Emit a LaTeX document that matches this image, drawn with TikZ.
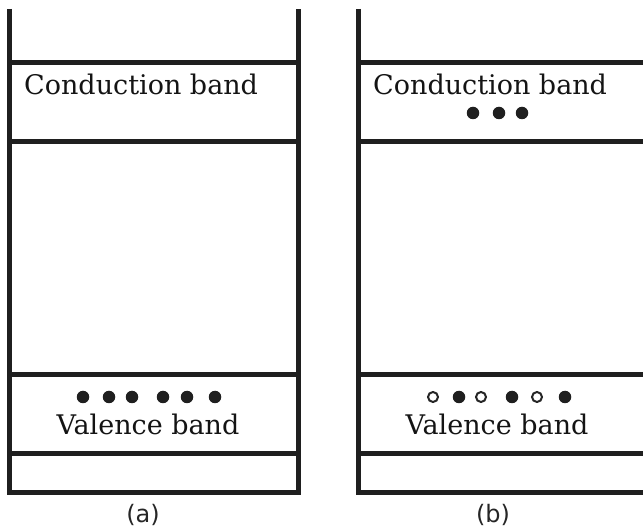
\documentclass[tikz,border=0pt]{standalone}
\usepackage{fontspec}
\setmainfont{DejaVu Serif}
\newfontfamily\capfont{DejaVu Sans}
\begin{document}
\begin{tikzpicture}[x=1pt,y=-1pt,
  wall/.style={line width=5pt,color=black!88,line join=miter},
  level/.style={line width=5pt,color=black!88},
  bandtext/.style={font=\fontsize{27}{30}\selectfont,text=black!92,inner sep=0pt},
  caption/.style={font=\capfont\fontsize{24}{26}\selectfont,text=black!85,inner sep=0pt},
  electron/.style={circle,fill=black!88,inner sep=0pt,minimum size=12.5pt},
  hole/.style={circle,draw=black!85,line width=2pt,fill=white,inner sep=0pt,minimum size=10pt}]
\useasboundingbox (0,0) rectangle (643,529);
\clip (0,0) rectangle (643,529);

% panel (a): insulator-like filled valence band
\draw[wall] (9,9) -- (9,492) -- (298,492) -- (298,9);
\draw[level] (9,63) -- (298,63);
\draw[level] (9,142) -- (298,142);
\draw[level] (9,375) -- (298,375);
\draw[level] (9,453) -- (298,453);
\node[bandtext,anchor=base west] (cbA) at (24,95) {Conduction band};
\node[bandtext,anchor=base] (vbA) at (148,435) {Valence band};
\foreach \x [count=\i] in {83,109,132,163,187,215}
  \node[electron] (eA\i) at (\x,397) {};
\node[caption] (capA) at (143,515) {(a)};

% panel (b): electrons excited, holes left behind
\draw[wall] (358,9) -- (358,492) -- (660,492);
\draw[level] (358,63) -- (660,63);
\draw[level] (358,142) -- (660,142);
\draw[level] (358,375) -- (660,375);
\draw[level] (358,453) -- (660,453);
\node[bandtext,anchor=base west] (cbB) at (373,95) {Conduction band};
\node[bandtext,anchor=base] (vbB) at (497,435) {Valence band};
\foreach \x [count=\i] in {473,499,522}
  \node[electron] (cB\i) at (\x,113) {};
\node[hole] (hB1) at (433,397) {};
\node[electron] (eB1) at (459,397) {};
\node[hole] (hB2) at (481,397) {};
\node[electron] (eB2) at (512,397) {};
\node[hole] (hB3) at (537,397) {};
\node[electron] (eB3) at (565,397) {};
\node[caption] (capB) at (493,515) {(b)};
\end{tikzpicture}
\end{document}
